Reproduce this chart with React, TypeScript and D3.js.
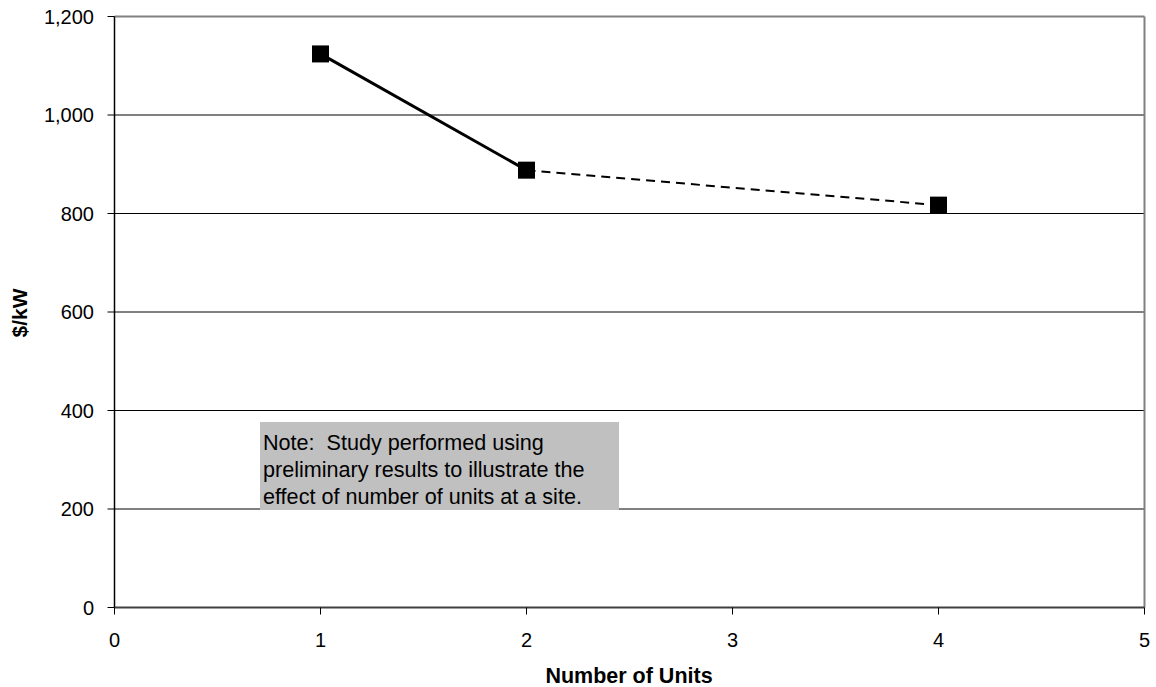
import React from "react";
import * as d3 from "d3";

const units = [1, 2, 4];
const costPerKW = [1124, 888, 817];
const xTicks = [0, 1, 2, 3, 4, 5];
const yTicks = [0, 200, 400, 600, 800, 1000, 1200];
const noteLines = [
  "Note:  Study performed using",
  "preliminary results to illustrate the",
  "effect of number of units at a site.",
];

export default function App() {
  const W = 1156, H = 687;
  const L = 114.5, R = 1144.5, T = 16.5, B = 607.5;
  const x = d3.scaleLinear().domain([0, 5]).range([L, R]);
  const y = d3.scaleLinear().domain([0, 1200]).range([B, T]);
  const pts = units.map((u, i) => [x(u), y(costPerKW[i])] as [number, number]);
  const line = d3.line();
  const font = "Liberation Sans, Arial, sans-serif";
  return (
    <svg width={W} height={H} style={{ position: "absolute", left: 0, top: 0 }} fontFamily={font}>
      <rect width={W} height={H} fill="#fff" />
      {yTicks.filter(t => t > 0 && t < 1200).map(t => (
        <line key={t} x1={L} x2={R} y1={y(t)} y2={y(t)} stroke="#000" strokeWidth={1} />
      ))}
      <line x1={L} x2={R} y1={T} y2={T} stroke="#808080" strokeWidth={2} />
      <line x1={R} x2={R} y1={T} y2={B} stroke="#808080" strokeWidth={2} />
      <rect x={260} y={422} width={359} height={88} fill="#c0c0c0" />
      {noteLines.map((s, i) => (
        <text key={i} x={263} y={450 + i * 27} fontSize={21.6} fill="#000" style={{ whiteSpace: "pre" }}>{s}</text>
      ))}
      <line x1={L} x2={R} y1={B} y2={B} stroke="#404040" strokeWidth={2} />
      <line x1={L} x2={L} y1={T} y2={B} stroke="#000" strokeWidth={1.5} />
      {yTicks.map(t => (
        <g key={t}>
          <line x1={L - 7} x2={L} y1={y(t)} y2={y(t)} stroke="#000" strokeWidth={1} />
          <text x={94} y={y(t)} dy="0.36em" textAnchor="end" fontSize={20}>{d3.format(",")(t)}</text>
        </g>
      ))}
      {xTicks.map(t => (
        <g key={t}>
          <line x1={x(t)} x2={x(t)} y1={B} y2={B + 7} stroke="#000" strokeWidth={1} />
          <text x={x(t)} y={647} textAnchor="middle" fontSize={20}>{t}</text>
        </g>
      ))}
      <path d={line(pts.slice(0, 2)) || ""} stroke="#000" strokeWidth={3} fill="none" />
      <path d={line(pts.slice(1)) || ""} stroke="#000" strokeWidth={2} fill="none" strokeDasharray="9,6" />
      {pts.map((p, i) => (
        <rect key={i} x={p[0] - 8.5} y={p[1] - 8.5} width={17} height={17} fill="#000" />
      ))}
      <text x={629} y={683} textAnchor="middle" fontSize={21.5} fontWeight="bold">Number of Units</text>
      <text transform={`translate(27,313) rotate(-90)`} textAnchor="middle" fontSize={21} fontWeight="bold">$/kW</text>
    </svg>
  );
}
